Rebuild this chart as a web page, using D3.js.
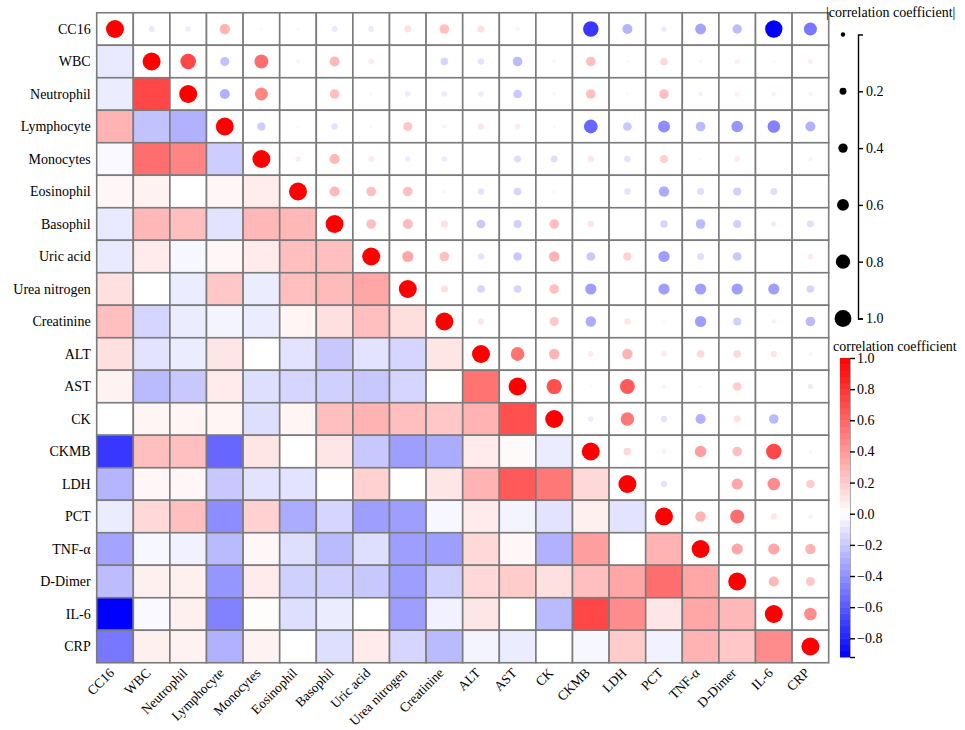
<!DOCTYPE html>
<html>
<head>
<meta charset="utf-8">
<title>Correlation matrix</title>
<script src="https://cdn.jsdelivr.net/npm/d3@7"></script>
<style>
  body { margin: 0; background: #fff; }
  text { font-family: "Liberation Serif", "Times New Roman", serif; fill: #000; }
  .axis_label { font-size: 14px; }
  .x_label { font-size: 13.5px; }
  .legend_text { font-size: 14px; }
  .legend .tick text { font-size: 14px; font-family: "Liberation Serif", serif; }
</style>
</head>
<body>
<div id="chart"></div>
<script>
// variables, same order for rows and columns
var labels = ["CC16", "WBC", "Neutrophil", "Lymphocyte", "Monocytes", "Eosinophil",
  "Basophil", "Uric acid", "Urea nitrogen", "Creatinine", "ALT", "AST", "CK",
  "CKMB", "LDH", "PCT", "TNF-\u03b1", "D-Dimer", "IL-6", "CRP"];

// lower triangle of the (symmetric) correlation matrix, row by row
var rowCC16 = [];
var rowWBC = [-0.08];
var rowNeutrophil = [-0.07, 0.72];
var rowLymphocyte = [0.30, -0.22, -0.28];
var rowMonocytes = [-0.02, 0.57, 0.48, -0.18];
var rowEosinophil = [0.03, 0.05, 0.00, 0.03, 0.07];
var rowBasophil = [-0.08, 0.28, 0.25, -0.10, 0.28, 0.28];
var rowUricAcid = [-0.08, 0.08, -0.03, 0.03, 0.08, 0.25, 0.25];
var rowUreaNitrogen = [0.12, 0.00, -0.07, 0.22, -0.07, 0.25, 0.27, 0.35];
var rowCreatinine = [0.25, -0.15, -0.07, -0.04, -0.07, 0.04, 0.12, 0.25, 0.13];
var rowALT = [0.12, -0.10, -0.07, 0.10, 0.00, -0.10, -0.20, -0.10, -0.15, 0.10];
var rowAST = [0.05, -0.25, -0.20, 0.08, -0.12, -0.15, -0.17, -0.20, -0.15, 0.00, 0.55];
var rowCK = [0.00, 0.04, 0.04, 0.04, -0.12, 0.04, 0.25, 0.30, 0.25, 0.22, 0.30, 0.69];
var rowCKMB = [-0.72, 0.25, 0.25, -0.55, 0.10, 0.00, 0.10, -0.20, -0.35, -0.30, 0.08, 0.02, -0.07];
var rowLDH = [-0.27, 0.03, 0.03, -0.20, -0.10, -0.10, 0.00, 0.18, 0.00, 0.10, 0.30, 0.65, 0.53, 0.15];
var rowPCT = [-0.07, 0.15, 0.25, -0.41, 0.18, -0.30, -0.15, -0.35, -0.35, -0.03, 0.08, -0.04, -0.10, 0.06, -0.10];
var rowTNF = [-0.33, -0.03, -0.05, -0.25, 0.03, -0.12, -0.25, -0.12, -0.35, -0.35, 0.15, 0.03, -0.28, 0.38, 0.00, 0.30];
var rowDDimer = [-0.24, 0.06, 0.06, -0.38, 0.08, -0.17, -0.17, -0.20, -0.35, -0.17, 0.15, 0.20, 0.12, 0.25, 0.35, 0.57, 0.35];
var rowIL6 = [-0.92, -0.02, 0.06, -0.45, 0.01, -0.12, -0.07, 0.00, -0.35, -0.05, 0.10, 0.00, -0.25, 0.72, 0.45, 0.10, 0.35, 0.28];
var rowCRP = [-0.49, 0.06, 0.05, -0.28, 0.05, 0.00, -0.12, 0.08, -0.15, -0.25, -0.04, -0.07, 0.00, -0.03, 0.20, -0.05, 0.30, 0.22, 0.45];

var lowerRows = [rowCC16, rowWBC, rowNeutrophil, rowLymphocyte, rowMonocytes, rowEosinophil,
  rowBasophil, rowUricAcid, rowUreaNitrogen, rowCreatinine, rowALT, rowAST, rowCK,
  rowCKMB, rowLDH, rowPCT, rowTNF, rowDDimer, rowIL6, rowCRP];

// legends
var minCorr = -0.92;
var colorTicks = [1.0, 0.8, 0.6, 0.4, 0.2, 0.0, -0.2, -0.4, -0.6, -0.8];
var sizeTicks = [0.2, 0.4, 0.6, 0.8, 1.0];
var sizeDots = [0.0, 0.2, 0.4, 0.6, 0.8, 1.0];

// ---- layout
var outerWidth = 965, outerHeight = 730;
var gridLeft = 96.7, gridTop = 12.75, cellW = 36.6, cellH = 32.5;
var n = labels.length;

function corr(i, j) {
  if (i === j) return 1;
  return i > j ? lowerRows[i][j] : lowerRows[j][i];
}

var cells = [];
for (var i = 0; i < n; i++) {
  for (var j = 0; j < n; j++) {
    cells.push({ row: i, col: j, r: corr(i, j) });
  }
}

var svg = d3.select("#chart").append("svg")
  .attr("width", outerWidth)
  .attr("height", outerHeight);

var x = d3.scaleBand().domain(labels).range([gridLeft, gridLeft + n * cellW]);
var y = d3.scaleBand().domain(labels).range([gridTop, gridTop + n * cellH]);

var color = d3.scaleLinear()
  .domain([minCorr, 0, 1])
  .range(["#0000ff", "#ffffff", "#ff0000"]);

var radius = d3.scalePow().exponent(0.45).domain([0, 1]).range([0, 9]);

// cells
svg.append("g").selectAll("rect")
  .data(cells)
  .enter()
  .append("rect")
  .attr("x", d => x(labels[d.col]))
  .attr("y", d => y(labels[d.row]))
  .attr("width", x.bandwidth())
  .attr("height", y.bandwidth())
  .attr("fill", d => d.row > d.col ? color(d.r) : "#ffffff")
  .attr("stroke", "#7b7b7b")
  .attr("stroke-width", 1.6);

// circles on upper triangle + diagonal
svg.append("g").selectAll("circle")
  .data(cells.filter(d => d.row <= d.col))
  .enter()
  .append("circle")
  .attr("cx", d => x(labels[d.col]) + x.bandwidth() / 2)
  .attr("cy", d => y(labels[d.row]) + y.bandwidth() / 2)
  .attr("r", d => radius(Math.abs(d.r)))
  .attr("fill", d => color(d.r));

// y labels
svg.append("g").selectAll("text")
  .data(labels)
  .enter()
  .append("text")
  .attr("class", "axis_label")
  .attr("x", gridLeft - 6)
  .attr("y", d => y(d) + y.bandwidth() / 2)
  .attr("dy", "0.35em")
  .attr("text-anchor", "end")
  .text(d => d);

// x labels, rotated
var xLabelY = gridTop + n * cellH + 11;
svg.append("g").selectAll("text")
  .data(labels)
  .enter()
  .append("text")
  .attr("class", "x_label")
  .attr("text-anchor", "end")
  .attr("transform", d => "translate(" + (x(d) + x.bandwidth() / 2) + "," + xLabelY + ") rotate(-45)")
  .text(d => d);

// ---- size legend
var sizeY = d3.scaleLinear().domain([0, 1]).range([34.5, 318.5]);
var legendRadius = d3.scaleLinear().domain([0, 1]).range([2.2, 8.4]);

svg.append("text")
  .attr("class", "legend_text")
  .attr("x", 826)
  .attr("y", 17)
  .text("|correlation coefficient|");

svg.append("g").selectAll("circle")
  .data(sizeDots)
  .enter()
  .append("circle")
  .attr("cx", 843)
  .attr("cy", d => sizeY(d))
  .attr("r", d => legendRadius(d))
  .attr("fill", "#000");

var sizeAxis = svg.append("g")
  .attr("class", "legend")
  .attr("transform", "translate(858,0)")
  .call(d3.axisRight(sizeY).tickValues(sizeTicks).tickSize(5).tickSizeOuter(5).tickPadding(3)
    .tickFormat(d3.format(".1f")));
sizeAxis.selectAll("path, line").attr("stroke", "#000").attr("stroke-width", 1.4);

// ---- colour bar
var cbY = d3.scaleLinear().domain([minCorr, 1]).range([657, 358]);
var steps = d3.range(minCorr, 1, 0.04);

svg.append("text")
  .attr("class", "legend_text")
  .attr("x", 833)
  .attr("y", 351)
  .text("correlation coefficient");

svg.append("g").selectAll("rect")
  .data(steps)
  .enter()
  .append("rect")
  .attr("x", 840)
  .attr("y", d => cbY(Math.min(d + 0.04, 1)))
  .attr("width", 10)
  .attr("height", d => cbY(d) - cbY(Math.min(d + 0.04, 1)) + 0.5)
  .attr("fill", d => color(d + 0.02));

var cbAxis = svg.append("g")
  .attr("class", "legend")
  .attr("transform", "translate(850,0)")
  .call(d3.axisRight(cbY).tickValues(colorTicks.concat([minCorr]))
    .tickSize(5).tickSizeOuter(0).tickPadding(2)
    .tickFormat(d => d === minCorr ? "" : d3.format(".1f")(d)));
cbAxis.select(".domain").attr("stroke", "#aaa").attr("stroke-width", 1);
cbAxis.selectAll("line").attr("stroke", "#000").attr("stroke-width", 1.4);
</script>
</body>
</html>
